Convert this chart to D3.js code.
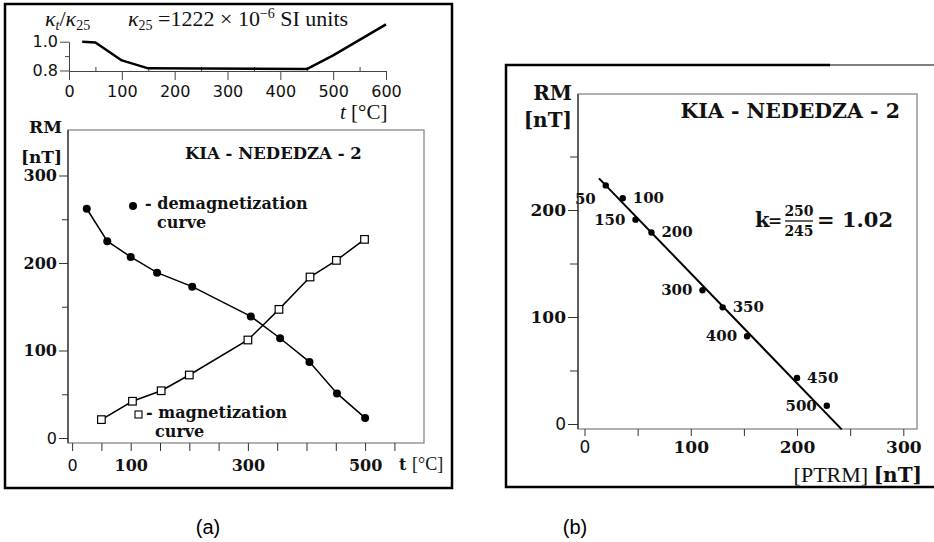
<!DOCTYPE html>
<html>
<head>
<meta charset="utf-8">
<script src="https://cdn.jsdelivr.net/npm/d3@7"></script>
<style>
  body { margin: 0; background: #fff; }
  svg { display: block; }
  .bs { font-family: "DejaVu Serif", serif; font-weight: bold; fill: #111; }
</style>
</head>
<body>
<div id="chart"></div>
<script>

// susceptibility ratio vs temperature (top inset)
var kappaT = [25, 50, 100, 150, 450, 500, 600];
var kappaRatio = [1.0, 0.995, 0.87, 0.815, 0.81, 0.905, 1.12];

// panel (a) demagnetization / magnetization curves
var demagT = [25, 60, 100, 145, 205, 305, 355, 405, 452, 500];
var demagRM = [262, 225, 207, 189, 173, 139, 114, 87, 51, 23];
var magT = [50, 103, 152, 200, 300, 353, 406, 451, 499];
var magRM = [21, 42, 54, 72, 112, 147, 184, 203, 227];

// panel (b) Arai plot
var ptrm = [20, 36, 48, 63, 111, 130, 153, 200, 228];
var rmB = [223, 211, 191, 179, 125, 109, 82, 43, 17];
var stepLabels = ["50", "100", "150", "200", "300", "350", "400", "450", "500"];
var fitPTRM = [13.6, 242];
var fitRM = [229.6, -5];

var tTicksA = [0, 100, 300, 500];
var rmTicksA = [0, 100, 200, 300];
var ptrmTicks = [0, 100, 200, 300];
var rmTicksB = [0, 100, 200];

var width = 934, height = 542;

var svg = d3.select("#chart").append("svg")
    .attr("width", width)
    .attr("height", height);

svg.append("rect").attr("width", width).attr("height", height).attr("fill", "#fff");

// ---------- panel frames ----------
svg.append("rect")
    .attr("x", 5).attr("y", 4).attr("width", 447).attr("height", 484)
    .attr("fill", "none").attr("stroke", "#000").attr("stroke-width", 2.5);

svg.append("line").attr("x1", 830).attr("x2", 934).attr("y1", 65).attr("y2", 65)
    .attr("stroke", "#000").attr("stroke-width", 1);
svg.append("path")
    .attr("d", "M830,65 H506 V487 H934")
    .attr("fill", "none").attr("stroke", "#000").attr("stroke-width", 2.5);

// ---------- top inset: kappa_t / kappa_25 ----------
var xK = d3.scaleLinear().domain([0, 600]).range([69, 386]);
var yK = d3.scaleLinear().domain([0.8, 1.0]).range([70.5, 41.7]);

var gK = svg.append("g");
gK.append("g")
    .attr("transform", "translate(0,71)")
    .call(d3.axisBottom(xK).tickValues(d3.range(0, 601, 100)).tickSize(9).tickSizeOuter(0))
    .call(function (g) {
        g.selectAll("text").attr("y", 15).style("font-family", "'DejaVu Sans', sans-serif")
            .style("font-size", "16px").attr("fill", "#111");
        g.selectAll("line, path").attr("stroke", "#444");
    });
gK.append("g")
    .attr("transform", "translate(0,71)")
    .call(d3.axisBottom(xK).tickValues(d3.range(50, 600, 100)).tickSize(-4).tickFormat(""))
    .call(function (g) {
        g.select(".domain").remove();
        g.selectAll("line").attr("stroke", "#444");
    });
gK.append("g")
    .attr("transform", "translate(69,0)")
    .call(d3.axisLeft(yK).tickValues([0.8, 1.0]).tickSize(9).tickSizeOuter(0).tickFormat(d3.format(".1f")))
    .call(function (g) {
        g.selectAll("text").attr("x", -11).style("font-family", "'DejaVu Sans', sans-serif")
            .style("font-size", "16px").attr("fill", "#111");
        g.selectAll("line, path").attr("stroke", "#444");
    });
gK.append("g")
    .attr("transform", "translate(69,0)")
    .call(d3.axisLeft(yK).tickValues([0.9]).tickSize(4).tickFormat(""))
    .call(function (g) {
        g.select(".domain").remove();
        g.selectAll("line").attr("stroke", "#444");
    });

var kLine = d3.line()
    .x(function (d, i) { return xK(kappaT[i]); })
    .y(function (d) { return yK(d); });
gK.append("path")
    .attr("d", kLine(kappaRatio))
    .attr("fill", "none").attr("stroke", "#000").attr("stroke-width", 2.5)
    .attr("stroke-linejoin", "round");

var kt = gK.append("text").attr("x", 45).attr("y", 26).attr("text-anchor", "start")
    .style("font-family", "'Liberation Serif', serif").style("font-size", "22px").attr("fill", "#111");
kt.append("tspan").style("font-style", "italic").text("κ");
kt.append("tspan").attr("dy", 4).style("font-size", "14px").style("font-style", "italic").text("t");
kt.append("tspan").attr("dy", -4).text("/");
kt.append("tspan").style("font-style", "italic").text("κ");
kt.append("tspan").attr("dy", 4).style("font-size", "14px").text("25");

var k25 = gK.append("text").attr("x", 128).attr("y", 26)
    .style("font-family", "'Liberation Serif', serif").style("font-size", "22px").attr("fill", "#111");
k25.append("tspan").style("font-style", "italic").text("κ");
k25.append("tspan").attr("dy", 4).style("font-size", "14px").text("25");
k25.append("tspan").attr("dy", -4).text(" =1222 × 10");
k25.append("tspan").attr("dy", -8).style("font-size", "14px").text("−6");
k25.append("tspan").attr("dy", 8).text(" SI units");

var tu = gK.append("text").attr("x", 340).attr("y", 119)
    .style("font-family", "'Liberation Serif', serif").style("font-size", "21px").attr("fill", "#111");
tu.append("tspan").style("font-style", "italic").text("t");
tu.append("tspan").text(" [°C]");

// ---------- panel (a) ----------
var xA = d3.scaleLinear().domain([0, 600]).range([72.1, 423.7]);
var yA = d3.scaleLinear().domain([0, 300]).range([438, 175.5]);

var gA = svg.append("g");
gA.append("rect")
    .attr("x", 68).attr("y", 130).attr("width", 356).attr("height", 313)
    .attr("fill", "none").attr("stroke", "#888").attr("stroke-width", 1.3);

gA.append("g")
    .attr("transform", "translate(0,443)")
    .call(d3.axisBottom(xA).tickValues(d3.range(0, 551, 50)).tickSize(8).tickSizeOuter(0)
        .tickFormat(function (d) { return tTicksA.indexOf(d) >= 0 ? d : ""; }))
    .call(function (g) {
        g.select(".domain").remove();
        g.selectAll("line").attr("stroke", "#333");
        g.selectAll("text").attr("y", 17).attr("class", "bs").style("font-size", "16px")
            .filter(function (d) { return d === 0; })
            .attr("class", null).style("font-family", "'DejaVu Sans', sans-serif").attr("fill", "#111");
    });

gA.append("g")
    .attr("transform", "translate(68,0)")
    .call(d3.axisLeft(yA).tickValues(rmTicksA).tickSize(9).tickSizeOuter(0))
    .call(function (g) {
        g.select(".domain").remove();
        g.selectAll("line").attr("stroke", "#333");
        g.selectAll("text").attr("x", -11).attr("class", "bs").style("font-size", "16px")
            .filter(function (d) { return d === 0; })
            .attr("class", null).style("font-family", "'DejaVu Sans', sans-serif").attr("fill", "#111");
    });
gA.append("g")
    .attr("transform", "translate(68,0)")
    .call(d3.axisLeft(yA).tickValues([50, 150, 250]).tickSize(6).tickFormat(""))
    .call(function (g) {
        g.select(".domain").remove();
        g.selectAll("line").attr("stroke", "#333");
    });
gA.append("line").attr("x1", 68).attr("x2", 68).attr("y1", 130).attr("y2", 443)
    .attr("stroke", "#333").attr("stroke-width", 1.3);

var demagLine = d3.line()
    .x(function (d, i) { return xA(demagT[i]); })
    .y(function (d) { return yA(d); });
var magLine = d3.line()
    .x(function (d, i) { return xA(magT[i]); })
    .y(function (d) { return yA(d); });

gA.append("path").attr("d", magLine(magRM))
    .attr("fill", "none").attr("stroke", "#000").attr("stroke-width", 1.5);
gA.append("path").attr("d", demagLine(demagRM))
    .attr("fill", "none").attr("stroke", "#000").attr("stroke-width", 1.5);

gA.selectAll(".demag")
    .data(demagRM)
    .enter()
    .append("circle")
    .attr("class", "demag")
    .attr("cx", function (d, i) { return xA(demagT[i]); })
    .attr("cy", function (d) { return yA(d); })
    .attr("r", 4)
    .attr("fill", "#000");

gA.selectAll(".mag")
    .data(magRM)
    .enter()
    .append("rect")
    .attr("class", "mag")
    .attr("x", function (d, i) { return xA(magT[i]) - 3.8; })
    .attr("y", function (d) { return yA(d) - 3.8; })
    .attr("width", 7.6).attr("height", 7.6)
    .attr("fill", "#fff").attr("stroke", "#000").attr("stroke-width", 1.2);

gA.append("text").attr("class", "bs").attr("x", 185).attr("y", 159)
    .style("font-size", "16.5px").text("KIA - NEDEDZA - 2");
gA.append("text").attr("class", "bs").attr("x", 62).attr("y", 133)
    .attr("text-anchor", "end").style("font-size", "17px").text("RM");
gA.append("text").attr("class", "bs").attr("x", 62).attr("y", 163)
    .attr("text-anchor", "end").style("font-size", "17px").text("[nT]");

// legend-like notes
gA.append("circle").attr("cx", 133).attr("cy", 206).attr("r", 4).attr("fill", "#000");
gA.append("text").attr("class", "bs").attr("x", 145).attr("y", 209)
    .style("font-size", "16px").text("- demagnetization");
gA.append("text").attr("class", "bs").attr("x", 157).attr("y", 228)
    .style("font-size", "16px").text("curve");
gA.append("rect").attr("x", 135).attr("y", 411).attr("width", 7).attr("height", 7)
    .attr("fill", "#fff").attr("stroke", "#000").attr("stroke-width", 1.1);
gA.append("text").attr("class", "bs").attr("x", 146).attr("y", 418)
    .style("font-size", "16px").text("- magnetization");
gA.append("text").attr("class", "bs").attr("x", 155).attr("y", 437)
    .style("font-size", "16px").text("curve");

var ta = gA.append("text").attr("class", "bs").attr("x", 399).attr("y", 470).style("font-size", "16px");
ta.append("tspan").text("t ");
ta.append("tspan").style("font-weight", "normal").style("font-family", "'Liberation Serif', serif")
    .style("font-size", "18px").text("[°C]");

// ---------- panel (b) ----------
var xB = d3.scaleLinear().domain([0, 300]).range([584.5, 903.3]);
var yB = d3.scaleLinear().domain([0, 200]).range([424, 210]);

var gB = svg.append("g");
gB.append("rect")
    .attr("x", 578).attr("y", 94).attr("width", 339).attr("height", 335)
    .attr("fill", "none").attr("stroke", "#888").attr("stroke-width", 1.3);

gB.append("g")
    .attr("transform", "translate(0,429)")
    .call(d3.axisBottom(xB).tickValues(d3.range(0, 301, 50)).tickSize(7).tickSizeOuter(0)
        .tickFormat(function (d) { return ptrmTicks.indexOf(d) >= 0 ? d : ""; }))
    .call(function (g) {
        g.select(".domain").remove();
        g.selectAll("line").attr("stroke", "#333");
        g.selectAll("text").attr("y", 12).attr("class", "bs").style("font-size", "17px")
            .filter(function (d) { return d === 0; })
            .attr("class", null).style("font-family", "'DejaVu Sans', sans-serif").attr("fill", "#111");
    });

gB.append("g")
    .attr("transform", "translate(578,0)")
    .call(d3.axisLeft(yB).tickValues(rmTicksB).tickSize(10).tickSizeOuter(0))
    .call(function (g) {
        g.select(".domain").remove();
        g.selectAll("line").attr("stroke", "#333");
        g.selectAll("text").attr("x", -12).attr("class", "bs").style("font-size", "17px")
            .filter(function (d) { return d === 0; })
            .attr("class", null).style("font-family", "'DejaVu Sans', sans-serif").attr("fill", "#111");
    });
gB.append("g")
    .attr("transform", "translate(578,0)")
    .call(d3.axisLeft(yB).tickValues([50, 150, 250]).tickSize(8).tickFormat(""))
    .call(function (g) {
        g.select(".domain").remove();
        g.selectAll("line").attr("stroke", "#333");
    });
gB.append("line").attr("x1", 578).attr("x2", 578).attr("y1", 94).attr("y2", 429)
    .attr("stroke", "#333").attr("stroke-width", 1.3);

gB.append("line")
    .attr("x1", xB(fitPTRM[0])).attr("y1", yB(fitRM[0]))
    .attr("x2", xB(fitPTRM[1])).attr("y2", yB(fitRM[1]))
    .attr("stroke", "#000").attr("stroke-width", 2);

gB.selectAll(".pt")
    .data(rmB)
    .enter()
    .append("circle")
    .attr("class", "pt")
    .attr("cx", function (d, i) { return xB(ptrm[i]); })
    .attr("cy", function (d) { return yB(d); })
    .attr("r", 3.2)
    .attr("fill", "#000");

gB.selectAll(".lab")
    .data(stepLabels)
    .enter()
    .append("text")
    .attr("class", "bs lab")
    .style("font-size", "15px")
    .attr("text-anchor", function (d, i) { return i % 2 == 0 ? "end" : "start"; })
    .attr("x", function (d, i) { return xB(ptrm[i]) + (i % 2 == 0 ? -10 : 10); })
    .attr("y", function (d, i) { return yB(rmB[i]) + (i == 0 ? 19 : 5); })
    .text(function (d) { return d; });

gB.append("text").attr("class", "bs").attr("x", 900).attr("y", 118)
    .attr("text-anchor", "end").style("font-size", "20.5px").text("KIA - NEDEDZA - 2");
gB.append("text").attr("class", "bs").attr("x", 572).attr("y", 100)
    .attr("text-anchor", "end").style("font-size", "20px").text("RM");
gB.append("text").attr("class", "bs").attr("x", 572).attr("y", 127)
    .attr("text-anchor", "end").style("font-size", "20px").text("[nT]");

var pt = gB.append("text").attr("class", "bs").attr("x", 922).attr("y", 482)
    .attr("text-anchor", "end").style("font-size", "20px");
pt.append("tspan").style("font-weight", "normal").style("font-family", "'Liberation Serif', serif")
    .style("font-size", "22px").text("[PTRM] ");
pt.append("tspan").text("[nT]");

// k = 250/245 = 1.02
gB.append("text").attr("class", "bs").attr("x", 755).attr("y", 227)
    .style("font-size", "21px").text("k");
gB.append("text").attr("class", "bs").attr("x", 768).attr("y", 226)
    .style("font-size", "17px").text("=");
gB.append("text").attr("class", "bs").attr("x", 799).attr("y", 216)
    .attr("text-anchor", "middle").style("font-size", "14px").text("250");
gB.append("line").attr("x1", 785).attr("x2", 813).attr("y1", 221).attr("y2", 221)
    .attr("stroke", "#111").attr("stroke-width", 1.3);
gB.append("text").attr("class", "bs").attr("x", 799).attr("y", 236)
    .attr("text-anchor", "middle").style("font-size", "14px").text("245");
gB.append("text").attr("class", "bs").attr("x", 817).attr("y", 227)
    .style("font-size", "21px").text("= 1.02");

// captions
svg.append("text").attr("x", 208).attr("y", 534).attr("text-anchor", "middle")
    .style("font-family", "'Liberation Sans', Arial, sans-serif").style("font-size", "20px").text("(a)");
svg.append("text").attr("x", 575).attr("y", 534).attr("text-anchor", "middle")
    .style("font-family", "'Liberation Sans', Arial, sans-serif").style("font-size", "20px").text("(b)");

</script>
</body>
</html>
